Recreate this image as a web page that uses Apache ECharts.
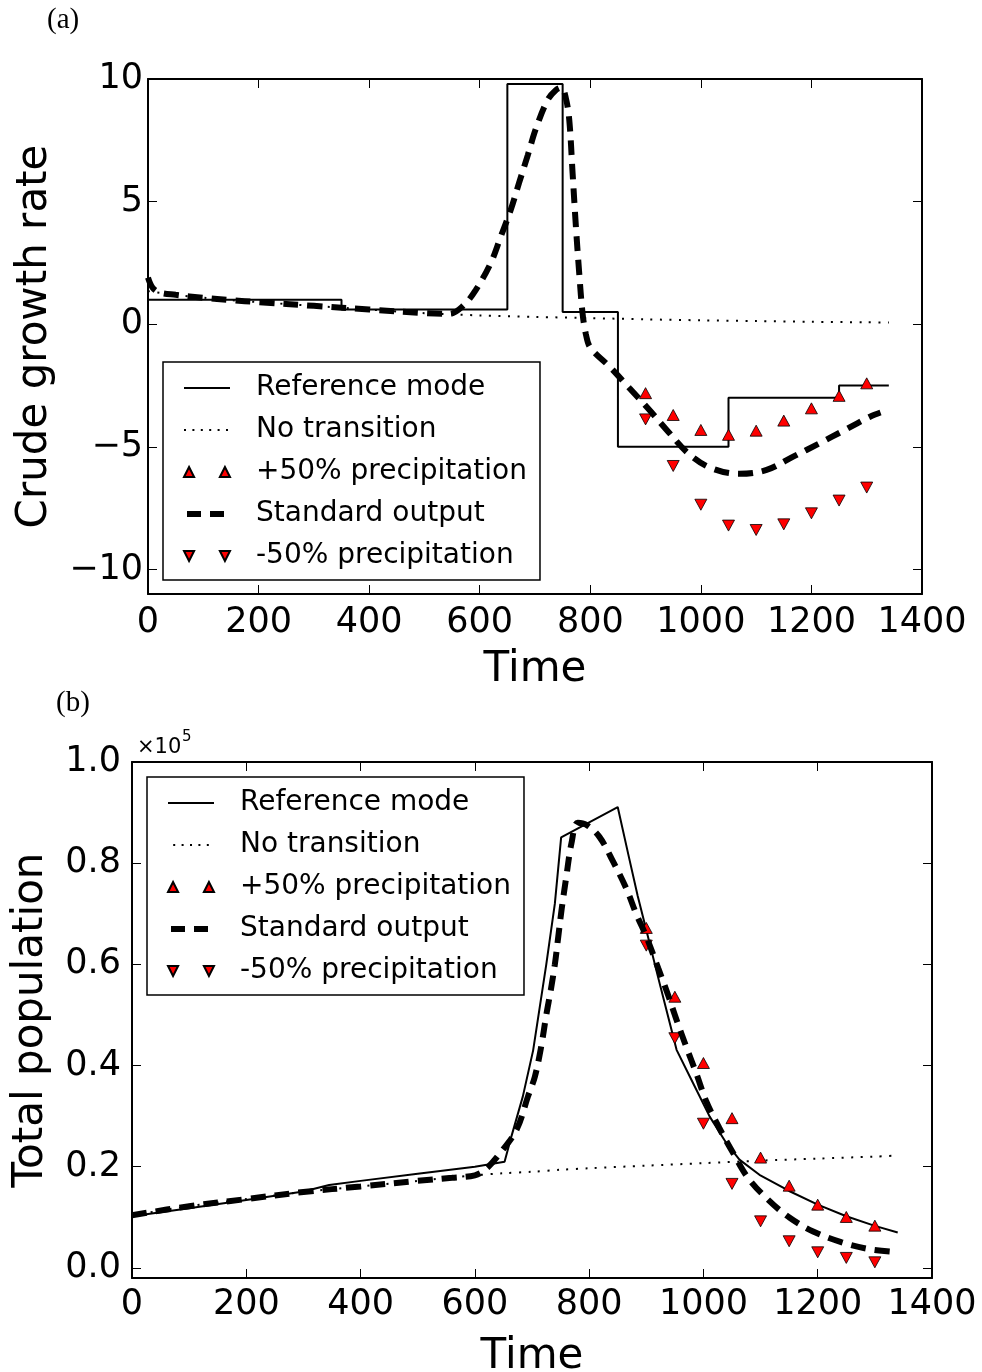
<!DOCTYPE html>
<html>
<head>
<meta charset="utf-8">
<script src="https://cdn.jsdelivr.net/npm/echarts@6/dist/echarts.min.js"></script>
<style>html,body{margin:0;padding:0;background:#fff}#c{width:982px;height:1372px}</style>
</head>
<body>
<div id="c"></div>
<script>
// ---------- tick values ----------
const timeTicks = [0, 200, 400, 600, 800, 1000, 1200, 1400];
const aYTicks = [-10, -5, 0, 5, 10];
const bYTicks = [0, 20000, 40000, 60000, 80000, 100000];

// ---------- panel (a): crude growth rate ----------
const aRefTime = [0, 350, 650, 750, 850, 1050, 1250, 1340];
const aRefValue = [1.0, 0.6, 9.8, 0.5, -5.0, -3.0, -2.5, -2.5];

const aNoTransTime = [0, 50, 100, 150, 200, 300, 400, 500, 600, 700, 800, 900, 1000, 1100, 1200, 1300, 1340];
const aNoTransValue = [1.35, 1.2, 1.08, 0.98, 0.9, 0.75, 0.6, 0.45, 0.36, 0.3, 0.25, 0.2, 0.16, 0.13, 0.1, 0.08, 0.07];

const aStdTime = [0, 8, 20, 50, 100, 150, 200, 300, 400, 500, 545, 570, 593, 620, 638, 656, 671, 687, 702, 723, 738, 748, 756, 762, 768, 774, 780, 786, 792, 800, 835, 871, 907, 941, 977, 1019, 1070, 1119, 1167, 1215, 1258, 1306, 1325];
const aStdValue = [1.9, 1.5, 1.3, 1.2, 1.08, 0.98, 0.9, 0.75, 0.6, 0.45, 0.42, 0.75, 1.4, 2.5, 3.57, 4.66, 5.75, 6.9, 8.0, 9.15, 9.55, 9.65, 9.2, 8.33, 6.16, 3.98, 2.08, 0.45, -0.4, -0.95, -1.73, -2.61, -3.5, -4.38, -5.26, -5.87, -6.1, -5.94, -5.4, -4.85, -4.34, -3.77, -3.6];

const precipTime = [900, 950, 1000, 1050, 1100, 1150, 1200, 1250, 1300];
const aPlusValue = [-2.81, -3.7, -4.31, -4.51, -4.34, -3.93, -3.43, -2.92, -2.41];
const aMinusValue = [-3.88, -5.78, -7.36, -8.21, -8.39, -8.16, -7.71, -7.19, -6.66];

// ---------- panel (b): total population ----------
const bRefTime = [0, 100, 200, 300, 345, 400, 500, 600, 652, 664, 684, 702, 725, 740, 751, 850, 870, 885, 900, 925, 953, 982, 1011, 1040, 1063, 1098, 1150, 1200, 1250, 1300, 1340];
const bRefValue = [10200, 11800, 13400, 15100, 16400, 17200, 18600, 20000, 21000, 26000, 33900, 43000, 60000, 72000, 85100, 91100, 81000, 73500, 66800, 55500, 43100, 36500, 29900, 24700, 21400, 18400, 15200, 12500, 10200, 8300, 7000];

const bNoTransTime = [0, 100, 200, 300, 400, 500, 600, 650, 700, 750, 800, 900, 1000, 1100, 1200, 1300, 1340];
const bNoTransValue = [10400, 12200, 13600, 15000, 16100, 17200, 18300, 18700, 19000, 19400, 19700, 20200, 20700, 21200, 21600, 22000, 22200];

const bStdTime = [0, 100, 200, 300, 400, 500, 560, 600, 620, 645, 673, 693, 705, 716, 725, 733, 740, 746, 752, 760, 769, 780, 795, 818, 842, 865, 883, 900, 921, 938, 953, 970, 988, 1005, 1028, 1052, 1078, 1113, 1151, 1192, 1241, 1288, 1335];
const bStdValue = [10400, 12200, 13600, 15000, 16100, 17200, 17800, 18300, 19600, 22800, 27300, 33900, 37800, 43700, 50000, 55000, 60000, 65500, 71000, 77300, 83900, 88000, 87600, 85200, 80300, 75000, 69800, 65500, 59200, 54000, 49000, 43700, 38300, 32900, 27600, 22700, 17800, 13500, 9900, 7200, 5100, 3750, 3160];

const bPlusValue = [67200, 53600, 40500, 29600, 21800, 16250, 12500, 10070, 8350];
const bMinusValue = [63700, 45400, 28500, 16600, 9200, 5260, 3080, 1970, 1100];

// ---------- helpers ----------
const zip = (xs, ys) => xs.map((x, i) => [x, ys[i]]);
const FONT = 'DejaVu Sans';
const minus = v => (v < 0 ? '\u2212' + Math.abs(v) : String(v));

const upIcon = 'path://M0,11 L5.5,0 L11,11 Z M39,11 L44.5,0 L50,11 Z';
const downIcon = 'path://M0,0 L11,0 L5.5,11 Z M39,0 L50,0 L44.5,11 Z';

function xAxes(grid, nameGap, labelMargin) {
  const common = {
    type: 'value', gridIndex: grid, min: 0, max: 1400, interval: 200,
    splitLine: { show: false },
    axisLine: { show: true, onZero: false, lineStyle: { color: '#000', width: 2 } },
    axisTick: { show: true, inside: true, length: 9, lineStyle: { color: '#000', width: 1 } }
  };
  return [
    Object.assign({}, common, {
      position: 'bottom',
      axisLabel: { show: true, margin: labelMargin, fontSize: 35, fontFamily: FONT, color: '#000',
        customValues: timeTicks, formatter: v => String(v) },
      name: 'Time', nameLocation: 'middle', nameGap: nameGap,
      nameTextStyle: { fontSize: 42, fontFamily: FONT, color: '#000' }
    }),
    Object.assign({}, common, { position: 'top', axisLabel: { show: false } })
  ];
}

function yAxes(grid, min, max, ticks, fmt, name, nameGap, labelMargin, labelShift) {
  const common = {
    type: 'value', gridIndex: grid, min: min, max: max,
    splitLine: { show: false },
    axisLine: { show: true, onZero: false, lineStyle: { color: '#000', width: 2 } },
    axisTick: { show: true, inside: true, length: 9, customValues: ticks, lineStyle: { color: '#000', width: 1 } }
  };
  return [
    Object.assign({}, common, {
      position: 'left',
      axisLabel: { show: true, margin: labelMargin, fontSize: 35, fontFamily: FONT, color: '#000',
        customValues: ticks, formatter: fmt, padding: [labelShift, 0, 0, 0] },
      name: name, nameLocation: 'middle', nameGap: nameGap,
      nameTextStyle: { fontSize: 42, fontFamily: FONT, color: '#000' }
    }),
    Object.assign({}, common, { position: 'right', axisLabel: { show: false } })
  ];
}

function panelSeries(xi, yi, ref, noTrans, plus, std, minusData, refStep) {
  return [
    { name: 'Reference mode', type: 'line', xAxisIndex: xi, yAxisIndex: yi, data: ref,
      step: refStep ? 'end' : false, symbol: 'none', z: 2,
      itemStyle: { color: '#000' },
      lineStyle: { color: '#000', width: 2 } },
    { name: 'No transition', type: 'line', xAxisIndex: xi, yAxisIndex: yi, data: noTrans,
      symbol: 'none', smooth: 0.3, z: 2,
      itemStyle: { color: '#000' },
      lineStyle: { color: '#000', width: 2, type: [2, 7.5] } },
    { name: '+50% precipitation', type: 'scatter', xAxisIndex: xi, yAxisIndex: yi, data: plus,
      symbol: 'triangle', symbolSize: [12, 11], z: 3,
      itemStyle: { color: '#ff0000', borderColor: '#000', borderWidth: 0.8, opacity: 1 } },
    { name: 'Standard output', type: 'line', xAxisIndex: xi, yAxisIndex: yi, data: std,
      symbol: 'none', smooth: 0.35, z: 4,
      itemStyle: { color: '#000' },
      lineStyle: { color: '#000', width: 6, type: [15, 9], cap: 'butt' } },
    { name: '-50% precipitation', type: 'scatter', xAxisIndex: xi, yAxisIndex: yi, data: minusData,
      symbol: 'triangle', symbolRotate: 180, symbolSize: [12, 11], z: 3,
      itemStyle: { color: '#ff0000', borderColor: '#000', borderWidth: 0.8, opacity: 1 } }
  ];
}

const hiddenSymbol = { color: 'rgba(0,0,0,0)', borderWidth: 0, borderColor: 'rgba(0,0,0,0)' };

function legendAt(left, top) {
  return {
    orient: 'vertical', left: left, top: top,
    itemWidth: 46, itemHeight: 11, itemGap: 10,
    padding: [10, 13, 8, 18],
    backgroundColor: '#fff', borderColor: '#000', borderWidth: 1.5,
    selectedMode: false, symbolRotate: 0,
    textStyle: { fontSize: 28, fontFamily: FONT, color: '#000', lineHeight: 32, padding: [0, 0, 0, 21] },
    data: [
      { name: 'Reference mode', itemStyle: hiddenSymbol, lineStyle: { color: '#000', width: 2 } },
      { name: 'No transition', itemStyle: hiddenSymbol, lineStyle: { color: '#000', type: [2, 6.4], width: 2 } },
      { name: '+50% precipitation', icon: upIcon },
      { name: 'Standard output', itemStyle: hiddenSymbol, lineStyle: { color: '#000', type: [14, 9], dashOffset: 20, width: 6 } },
      { name: '-50% precipitation', icon: downIcon }
    ]
  };
}

const chart = echarts.init(document.getElementById('c'), null, { renderer: 'canvas' });
chart.setOption({
  animation: false,
  backgroundColor: '#fff',
  textStyle: { fontFamily: FONT },
  grid: [
    { left: 148, top: 79, width: 774, height: 515, outerBoundsMode: 'none', containLabel: false },
    { left: 132, top: 762, width: 800, height: 516, outerBoundsMode: 'none', containLabel: false }
  ],
  xAxis: [].concat(xAxes(0, 55, 11), xAxes(1, 58, 9)),
  yAxis: [].concat(
    yAxes(0, -11, 10, aYTicks, minus, 'Crude growth rate', 92, 5, 3),
    yAxes(1, -2000, 100000, bYTicks, v => (v / 100000).toFixed(1), 'Total population', 80, 11, 0)
  ),
  legend: [legendAt(163, 362), legendAt(147, 777)],
  graphic: [
    { type: 'text', left: 47, top: 6, style: { text: '(a)', font: '29px "Liberation Serif"', fill: '#000' } },
    { type: 'text', left: 56, top: 689, style: { text: '(b)', font: '29px "Liberation Serif"', fill: '#000' } },
    { type: 'text', left: 137, top: 737, style: { text: '\u00d710', font: '21px "DejaVu Sans"', fill: '#000' } },
    { type: 'text', left: 182, top: 730, style: { text: '5', font: '15px "DejaVu Sans"', fill: '#000' } }
  ],
  series: [].concat(
    panelSeries(0, 0,
      zip(aRefTime, aRefValue), zip(aNoTransTime, aNoTransValue), zip(precipTime, aPlusValue),
      zip(aStdTime, aStdValue), zip(precipTime, aMinusValue), true),
    panelSeries(2, 2,
      zip(bRefTime, bRefValue), zip(bNoTransTime, bNoTransValue), zip(precipTime, bPlusValue),
      zip(bStdTime, bStdValue), zip(precipTime, bMinusValue), false)
  )
});
</script>
</body>
</html>
